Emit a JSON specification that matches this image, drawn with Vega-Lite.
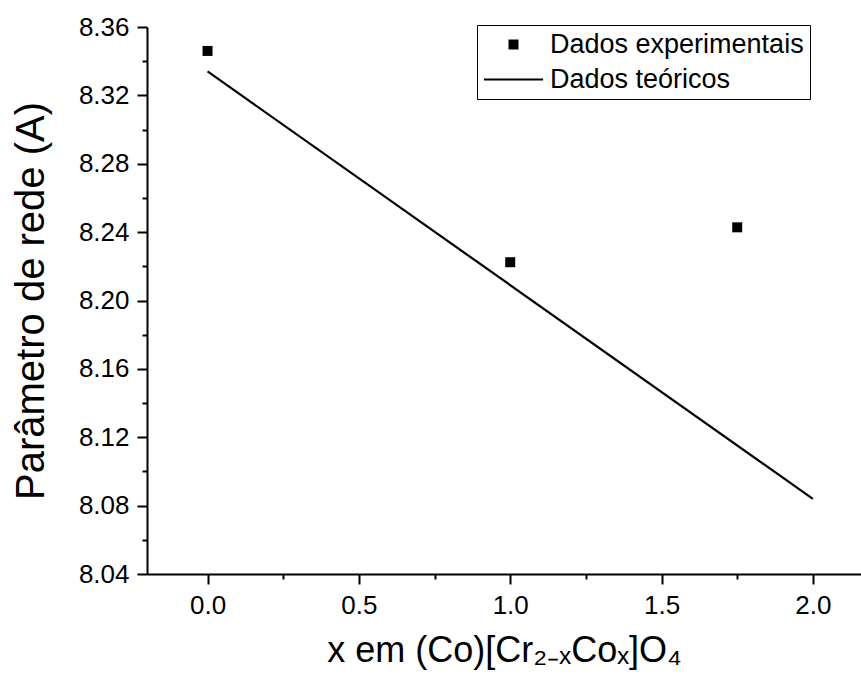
{
  "$schema": "https://vega.github.io/schema/vega-lite/v6.json",
  "width": 714,
  "height": 547,
  "autosize": {"type": "none"},
  "padding": {"left": 147, "top": 27, "right": 0, "bottom": 108},
  "background": "white",
  "config": {
    "view": {"stroke": null},
    "font": "Liberation Sans",
    "axis": {
      "grid": false,
      "domainColor": "black",
      "domainWidth": 2,
      "tickColor": "black",
      "tickWidth": 2,
      "labelColor": "black",
      "titleColor": "black",
      "labelFont": "Liberation Sans",
      "titleFont": "Liberation Sans",
      "labelFontSize": 26,
      "titleFontWeight": "normal"
    }
  },
  "datasets": {
    "exp": [
      {"x": 0.0, "a": 8.346, "serie": "Dados experimentais"},
      {"x": 1.0, "a": 8.2224, "serie": "Dados experimentais"},
      {"x": 1.75, "a": 8.2428, "serie": "Dados experimentais"}
    ],
    "teo": [
      {"x": 0.0, "a": 8.334, "serie": "Dados teóricos"},
      {"x": 2.0, "a": 8.084, "serie": "Dados teóricos"}
    ]
  },
  "resolve": {"axis": {"x": "independent", "y": "independent"}},
  "layer": [
    {
      "data": {"name": "teo"},
      "mark": {"type": "line", "color": "black", "strokeWidth": 2.2},
      "encoding": {
        "x": {
          "field": "x", "type": "quantitative",
          "scale": {"domain": [-0.2, 2.159], "nice": false, "zero": false},
          "axis": {
            "orient": "bottom",
            "values": [0, 0.5, 1, 1.5, 2],
            "format": ".1f",
            "tickSize": 10,
            "labelPadding": 8,
            "labelFontSize": 26,
            "title": "x em (Co)[Cr₂₋ₓCoₓ]O₄",
            "titleFontSize": 36,
            "titlePadding": 15
          }
        },
        "y": {
          "field": "a", "type": "quantitative",
          "scale": {"domain": [8.04, 8.36], "nice": false, "zero": false},
          "axis": {
            "orient": "left",
            "values": [8.04, 8.08, 8.12, 8.16, 8.2, 8.24, 8.28, 8.32, 8.36],
            "format": ".2f",
            "tickSize": 10,
            "labelPadding": 8,
            "labelFontSize": 26,
            "title": "Parâmetro de rede (A)",
            "titleFontSize": 40,
            "titlePadding": 27
          }
        }
      }
    },
    {
      "data": {"name": "exp"},
      "mark": {"type": "point", "filled": true, "fill": "black", "stroke": "black", "strokeWidth": 0, "size": 64, "opacity": 1},
      "encoding": {
        "x": {
          "field": "x", "type": "quantitative",
          "scale": {"domain": [-0.2, 2.159], "nice": false, "zero": false},
          "axis": {
            "orient": "bottom",
            "values": [0.25, 0.75, 1.25, 1.75],
            "labels": false,
            "domain": false,
            "tickSize": 5,
            "title": null
          }
        },
        "y": {
          "field": "a", "type": "quantitative",
          "scale": {"domain": [8.04, 8.36], "nice": false, "zero": false},
          "axis": {
            "orient": "left",
            "values": [8.06, 8.1, 8.14, 8.18, 8.22, 8.26, 8.3, 8.34],
            "labels": false,
            "domain": false,
            "tickSize": 5,
            "title": null
          }
        },
        "shape": {
          "field": "serie", "type": "nominal",
          "scale": {"domain": ["Dados experimentais", "Dados teóricos"], "range": ["M-1.25,-1.25H1.25V1.25H-1.25Z", "M-7.4,-0.27H7.4V0.27H-7.4Z"]},
          "legend": {
            "orient": "none",
            "legendX": 330,
            "legendY": -2,
            "title": null,
            "strokeColor": "black",
            "padding": 6,
            "labelFont": "Liberation Sans",
            "labelFontSize": 27,
            "labelColor": "black",
            "labelLimit": 500,
            "labelOffset": 23,
            "labelExpr": "datum.label + '\u00a0\u00a0\u00a0\u00a0'",
            "symbolOffset": 17,
            "symbolSize": 64,
            "symbolFillColor": "black",
            "symbolStrokeColor": "black",
            "symbolStrokeWidth": 0,
            "symbolOpacity": 1,
            "rowPadding": 7
          }
        }
      }
    }
  ]
}
